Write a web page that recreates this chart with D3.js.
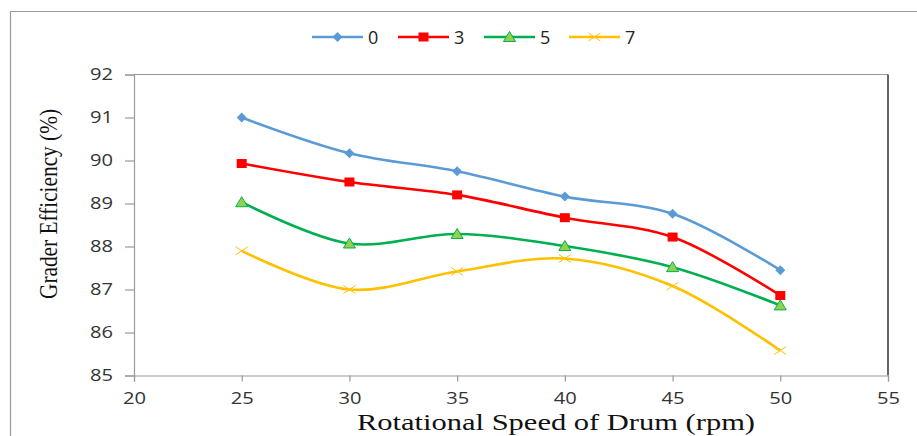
<!DOCTYPE html>
<html><head><meta charset="utf-8">
<script src="https://cdn.jsdelivr.net/npm/d3@7"></script>
<style>body{margin:0;background:#fff}svg{display:block}</style>
</head><body>
<svg id="c" width="917" height="436"></svg>
<script>
const speeds = [25, 30, 35, 40, 45, 50];
const seriesNames = ["0", "3", "5", "7"];
const s0 = [91.0, 90.17, 89.75, 89.16, 88.76, 87.45];
const s3 = [89.93, 89.5, 89.2, 88.67, 88.22, 86.86];
const s5 = [89.03, 88.07, 88.29, 88.01, 87.52, 86.63];
const s7 = [87.9, 87.0, 87.42, 87.72, 87.08, 85.58];
const xTicks = [20, 25, 30, 35, 40, 45, 50, 55];
const yTicks = [85, 86, 87, 88, 89, 90, 91, 92];

const allSeries = [s0, s3, s5, s7];
const colors = ["#5B9BD5", "#FF0000", "#00B050", "#FFC000"];
const markers = ["diamond", "square", "triangle", "x"];

const svg = d3.select("#c");
// outer frame
svg.append("path").attr("d", "M10.5,436 V11.5 H917").attr("fill","none").attr("stroke","#9a9a9a").attr("stroke-width",1.2);

const L = 134, R = 888, T = 74.5, B = 375.5;
const x = d3.scaleLinear().domain([20, 55]).range([L, R]);
const y = d3.scaleLinear().domain([85, 92]).range([B, T]);

svg.append("line").attr("x1", L).attr("x2", R).attr("y1", T).attr("y2", T).attr("stroke","#999").attr("stroke-width",1.2);
svg.append("line").attr("x1", R).attr("x2", R).attr("y1", T).attr("y2", B).attr("stroke","#333").attr("stroke-width",1.5);

const font = "'Open Sans', 'Noto Sans', sans-serif";

const yAxis = svg.append("g").attr("transform", `translate(${L},0)`)
  .call(d3.axisLeft(y).tickValues(yTicks).tickSize(9).tickPadding(12).tickFormat(d3.format("d")));
const xAxis = svg.append("g").attr("transform", `translate(0,${B})`)
  .call(d3.axisBottom(x).tickValues(xTicks).tickSize(6).tickPadding(11).tickFormat(d3.format("d")));
[yAxis, xAxis].forEach(a => {
  a.select(".domain").attr("stroke", "#999").attr("stroke-width", 1.2);
  a.selectAll(".tick line").attr("stroke", "#999").attr("stroke-width", 1.2);
  a.selectAll(".tick text").attr("fill", "#333").style("font-family", font).style("font-size", "16px")
    .attr("textLength", 23).attr("lengthAdjust", "spacingAndGlyphs");
});

// axis titles
svg.append("text").attr("x", 556).attr("y", 430).attr("text-anchor", "middle")
  .attr("textLength", 398).attr("lengthAdjust", "spacingAndGlyphs")
  .style("font-family", "'Liberation Serif', 'Times New Roman', serif").style("font-size", "24px").attr("fill", "#111")
  .text("Rotational Speed of Drum (rpm)");
svg.append("text").attr("transform", "translate(57,204) rotate(-90)").attr("text-anchor", "middle")
  .attr("textLength", 190).attr("lengthAdjust", "spacingAndGlyphs")
  .style("font-family", "'Liberation Serif', 'Times New Roman', serif").style("font-size", "25px").attr("fill", "#111")
  .text("Grader Efficiency (%)");

const line = d3.line().x(d => x(d[0])).y(d => y(d[1])).curve(d3.curveCatmullRom.alpha(0.5));

function drawMarker(g, type, cx, cy, color) {
  if (type === "diamond") {
    g.append("path").attr("d", `M${cx},${cy-5} L${cx+5},${cy} L${cx},${cy+5} L${cx-5},${cy} Z`).attr("fill", color);
  } else if (type === "square") {
    g.append("rect").attr("x", cx-5).attr("y", cy-4.5).attr("width", 10).attr("height", 9).attr("fill", color);
  } else if (type === "triangle") {
    g.append("path").attr("d", `M${cx},${cy-5.5} L${cx+6},${cy+4.5} L${cx-6},${cy+4.5} Z`).attr("fill", "#92D050").attr("stroke", "#00B050").attr("stroke-width", 1);
  } else {
    g.append("path").attr("d", `M${cx-6},${cy-4} L${cx+6},${cy+4} M${cx-6},${cy+4} L${cx+6},${cy-4}`).attr("stroke", color).attr("stroke-width", 1);
  }
}

allSeries.forEach((s, i) => {
  const pts = speeds.map((v, j) => [v, s[j]]);
  const g = svg.append("g");
  g.append("path").datum(pts).attr("d", line).attr("fill", "none").attr("stroke", colors[i]).attr("stroke-width", 2.6);
  pts.forEach(p => drawMarker(g, markers[i], x(p[0]), y(p[1]), colors[i]));
});

// legend
const legX = [312, 398, 484, 569];
seriesNames.forEach((n, i) => {
  const g = svg.append("g");
  const lx = legX[i], ly = 37;
  g.append("line").attr("x1", lx).attr("x2", lx + 51).attr("y1", ly).attr("y2", ly).attr("stroke", colors[i]).attr("stroke-width", 2.6);
  drawMarker(g, markers[i], lx + 25.5, ly, colors[i]);
  g.append("text").attr("x", lx + 56).attr("y", ly + 6.5).attr("fill", "#222")
    .style("font-family", font).style("font-size", "18px").text(n);
});
</script>
</body></html>
